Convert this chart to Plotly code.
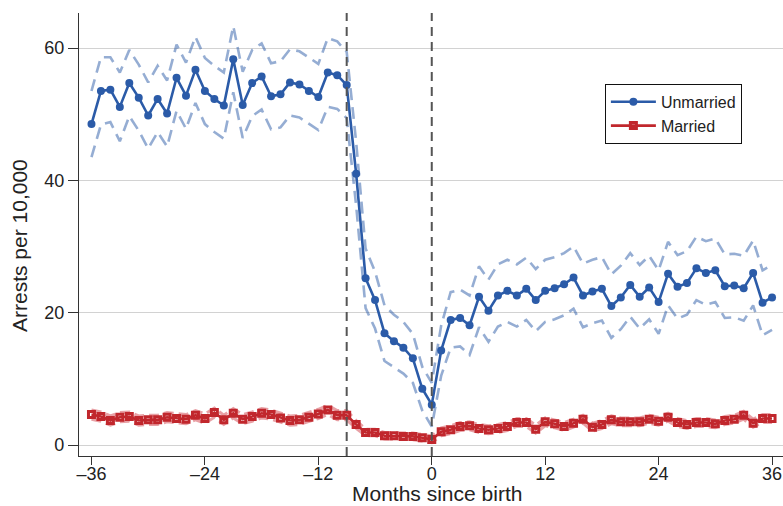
import plotly.graph_objects as go

months = list(range(-36, 37))

unmarried = [48.5, 53.5, 53.7, 51.1, 54.7, 52.5, 49.8, 52.3, 50.1, 55.5,
             52.8, 56.7, 53.5, 52.3, 51.3, 58.3, 51.4, 54.7, 55.7, 52.7,
             53.0, 54.8, 54.5, 53.5, 52.6, 56.3, 55.9, 54.4,
             41.0, 25.2, 21.9, 16.9, 15.7, 14.7, 13.1, 8.5, 6.1,
             14.3, 18.9, 19.2, 18.1, 22.4, 20.3, 22.6, 23.3, 22.6, 23.6,
             21.9, 23.3, 23.7, 24.3, 25.3, 22.6, 23.2, 23.6, 21.0, 22.3,
             24.2, 22.4, 23.8, 21.6, 25.9, 23.9, 24.5, 26.7, 26.0, 26.4,
             24.0, 24.1, 23.7, 26.0, 21.5, 22.3]

unmarried_hw = [5.0, 5.1, 4.9, 5.2, 5.0, 5.0, 5.0, 5.0, 5.0, 5.0,
                5.0, 5.0, 5.0, 5.0, 5.0, 5.0, 5.0, 5.0, 5.0, 5.0,
                5.0, 5.0, 5.0, 5.0, 5.0, 5.2, 5.1, 5.0,
                4.8, 4.5, 4.3, 4.2, 4.0, 3.9, 3.7, 3.3, 3.3,
                3.8, 4.2, 4.3, 4.5, 4.6, 4.7, 4.7, 4.7, 4.7, 4.7,
                4.7, 4.7, 4.7, 4.7, 4.7, 4.8, 4.8, 4.8, 4.8, 4.8,
                4.8, 4.8, 4.8, 4.8, 4.8, 4.8, 4.8, 4.8, 4.8, 4.8,
                4.8, 4.8, 4.9, 4.9, 4.9, 4.9]

married = [4.6, 4.3, 3.7, 4.2, 4.3, 3.7, 3.8, 3.8, 4.2, 4.0,
           3.9, 4.5, 4.0, 4.9, 3.8, 4.8, 3.9, 4.3, 4.8, 4.6,
           4.1, 3.7, 3.8, 4.2, 4.7, 5.3, 4.5, 4.5,
           3.1, 1.9, 1.9, 1.4, 1.4, 1.3, 1.3, 1.1, 0.85,
           2.0, 2.3, 2.8, 2.9, 2.5, 2.3, 2.5, 2.8, 3.4, 3.4,
           2.4, 3.5, 3.2, 2.8, 3.3, 3.9, 2.7, 3.1, 3.8, 3.5,
           3.5, 3.5, 3.9, 3.6, 4.2, 3.4, 3.1, 3.4, 3.4, 3.2,
           3.7, 3.9, 4.5, 3.3, 4.0, 4.0]

married_hw = [0.7, 0.7, 0.7, 0.7, 0.7, 0.7, 0.7, 0.7, 0.7, 0.7,
              0.7, 0.7, 0.7, 0.7, 0.7, 0.7, 0.7, 0.7, 0.7, 0.7,
              0.7, 0.7, 0.7, 0.7, 0.7, 0.7, 0.7, 0.7,
              0.6, 0.5, 0.5, 0.5, 0.5, 0.5, 0.5, 0.5, 0.5,
              0.6, 0.6, 0.6, 0.6, 0.6, 0.6, 0.6, 0.6, 0.6, 0.6,
              0.6, 0.6, 0.6, 0.6, 0.6, 0.6, 0.6, 0.6, 0.6, 0.6,
              0.6, 0.6, 0.6, 0.6, 0.6, 0.6, 0.6, 0.6, 0.6, 0.6,
              0.6, 0.6, 0.6, 0.6, 0.6, 0.6]

x_ticks = [-36, -24, -12, 0, 12, 24, 36]
x_tick_labels = ["\u201336", "\u201324", "\u201312", "0", "12", "24", "36"]
y_ticks = [0, 20, 40, 60]
event_lines = [-9, 0]

BLUE = "#2b5ba8"
BLUE_CI = "rgba(43,91,168,0.5)"
RED = "#c1272d"
RED_CI = "rgba(205,45,55,0.45)"
FONT = "Liberation Sans, Arial, Helvetica, sans-serif"

u_hi = [v + h for v, h in zip(unmarried, unmarried_hw)]
u_lo = [v - h for v, h in zip(unmarried, unmarried_hw)]
m_hi = [v + h for v, h in zip(married, married_hw)]
m_lo = [v - h for v, h in zip(married, married_hw)]

fig = go.Figure()
for ys in (u_hi, u_lo):
    fig.add_trace(go.Scatter(x=months, y=ys, mode="lines", showlegend=False,
                             hoverinfo="skip",
                             line=dict(color=BLUE_CI, width=2.6, dash="12px,7px")))
for ys in (m_hi, m_lo):
    fig.add_trace(go.Scatter(x=months, y=ys, mode="lines", showlegend=False,
                             hoverinfo="skip",
                             line=dict(color=RED_CI, width=3, dash="10px,5px")))

fig.add_trace(go.Scatter(x=months, y=unmarried, mode="lines+markers", name="Unmarried",
                         line=dict(color=BLUE, width=2.6),
                         marker=dict(symbol="circle", size=8, color=BLUE)))
fig.add_trace(go.Scatter(x=months, y=married, mode="lines+markers", name="Married",
                         line=dict(color=RED, width=2.6),
                         marker=dict(symbol="square-open", size=6, color=RED,
                                     line=dict(width=3, color=RED))))

for xv in event_lines:
    fig.add_shape(type="line", xref="x", yref="paper", x0=xv, x1=xv, y0=0, y1=1,
                  line=dict(color="#555555", width=2, dash="9px,6px"), layer="above")

fig.update_layout(
    width=783, height=506,
    margin=dict(l=79, r=0, t=13, b=50),
    paper_bgcolor="white", plot_bgcolor="white",
    font=dict(family=FONT, color="#222222"),
    showlegend=True,
    legend=dict(x=0.747, y=0.84, xanchor="left", yanchor="top",
                bgcolor="white", bordercolor="#111111", borderwidth=1,
                font=dict(size=16, family=FONT, color="#222222"),
                itemwidth=45, tracegroupgap=0),
    xaxis=dict(range=[-37.32, 37.16], tickmode="array", tickvals=x_ticks,
               ticktext=x_tick_labels, ticks="outside", ticklen=8, tickwidth=1.3,
               tickcolor="#333333", showline=True, linecolor="#333333", linewidth=1.3,
               showgrid=False, zeroline=False, tickfont=dict(size=18),
               ticklabelstandoff=-7),
    yaxis=dict(range=[-1.66, 65.29], tickmode="array", tickvals=y_ticks,
               ticks="outside", ticklen=10, tickwidth=1.3, tickcolor="#333333",
               showline=True, linecolor="#333333", linewidth=1.3,
               showgrid=True, gridcolor="#d2d2d2", gridwidth=1.3,
               zeroline=False, tickfont=dict(size=18)),
    annotations=[
        dict(text="Months since birth", xref="paper", yref="paper",
             x=(437 - 79) / 704, y=(456 - 493) / 443, xanchor="center", yanchor="middle",
             showarrow=False, font=dict(size=21, family=FONT, color="#222222")),
        dict(text="Arrests per 10,000", xref="paper", yref="paper",
             x=(20 - 79) / 704, y=(456 - 246) / 443, xanchor="center", yanchor="middle",
             textangle=-90, showarrow=False,
             font=dict(size=21, family=FONT, color="#222222")),
    ],
)

fig.write_html("out.html")
